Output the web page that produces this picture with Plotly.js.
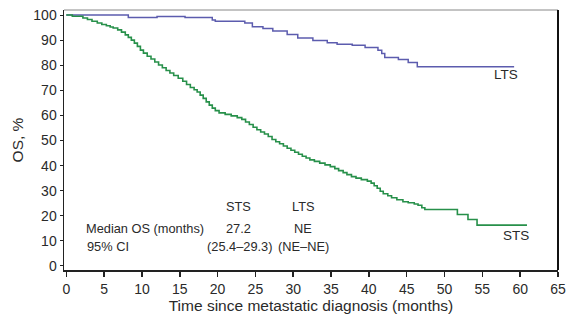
<!DOCTYPE html>
<html>
<head>
<meta charset="utf-8">
<script src="https://cdn.plot.ly/plotly-3.0.1.min.js"></script>
<style>html,body{margin:0;padding:0;background:#fff;}#chart{width:567px;height:320px;}</style>
</head>
<body>
<div id="chart"></div>
<script>
// Short-term survivors (STS) Kaplan-Meier curve
const stsTime = [0,0.8,2.2,2.8,3.4,4.1,4.7,5.3,5.8,6.2,6.8,7.3,7.8,8.2,8.6,9.0,9.4,9.8,10.2,10.7,11.2,11.7,12.2,12.7,13.2,13.7,14.2,14.8,15.4,15.9,16.4,16.9,17.3,17.7,18.1,18.5,18.9,19.3,19.7,20.2,21,21.8,22.6,23.2,23.7,24.2,24.7,25.2,25.7,26.2,26.7,27.2,27.7,28.2,28.7,29.2,29.7,30.2,30.7,31.2,31.7,32.2,32.8,33.5,34.2,34.9,35.5,36,36.6,37.1,37.7,38.3,39,39.8,40.3,40.7,41.1,41.5,41.9,42.5,43,43.7,44.5,45.2,46,46.5,47,47.4,51.7,53.1,54.3,60.9];
const stsOS   = [100,99.5,98.8,98.2,97.5,96.8,96.2,95.7,95.2,94.8,94.1,93.2,92.1,91.1,90,88.8,87.5,86,84.8,83.6,82.5,81.3,80.1,79,77.9,76.9,75.9,74.8,73.6,72.3,71.1,70.2,69.3,68.1,66.8,65.4,64.1,62.9,61.9,61,60.4,59.8,59.1,58.4,57.4,56.4,55.3,54.3,53.4,52.6,51.6,50.4,49.5,48.7,47.8,46.9,46.1,45.3,44.5,43.7,43,42.3,41.7,41,40.3,39.6,38.8,38,37.2,36.4,35.6,35,34.4,33.8,33,32,31,29.8,28.8,28,27.2,26.4,25.6,25.2,24.7,24.2,23.2,22.5,20.5,18.5,16.3,16.3];
// Long-term survivors (LTS) Kaplan-Meier curve
const ltsTime = [0,8.2,12,15.7,19.3,19.7,23.6,24.6,26,27.3,29.2,30.6,32.6,34.5,35.8,37.8,39.5,41.2,41.7,42.1,43.9,45.2,46.4,59.2];
const ltsOS   = [100,99,99.4,99,98,97.5,96.8,95.3,94.6,93.6,92.2,90.8,89.8,89,88.4,88,87.1,86,84.7,83.1,82.3,81.1,79.4,79.4];

const xTicks = [0,5,10,15,20,25,30,35,40,45,50,55,60,65];
const yTicks = [0,10,20,30,40,50,60,70,80,90,100];

// Inset table
const tableCols = ["STS","LTS"];
const medianOS = ["27.2","NE"];
const ci95 = ["(25.4–29.3)","(NE–NE)"];
const rowLabels = ["Median OS (months)","95% CI"];

const font = "Liberation Sans, Arial, sans-serif";
const txt = "#2a2a2a";

const traces = [
  {x: ltsTime, y: ltsOS, mode:"lines", line:{shape:"hv", color:"#5c5cae", width:1.5}, hoverinfo:"skip"},
  {x: stsTime, y: stsOS, mode:"lines", line:{shape:"hv", color:"#27904a", width:1.6}, hoverinfo:"skip"}
];

const ann = [];
const colX = [22.7, 31.3];
const ciX = [22.9, 31.3];
tableCols.forEach((c,i)=>ann.push({x:colX[i], y:23.9, text:c, showarrow:false, xanchor:"center", yanchor:"middle"}));
medianOS.forEach((c,i)=>ann.push({x:colX[i], y:15.1, text:c, showarrow:false, xanchor:"center", yanchor:"middle"}));
ci95.forEach((c,i)=>ann.push({x:ciX[i], y:7.6, text:c, showarrow:false, xanchor:"center", yanchor:"middle"}));
ann.push({x:2.4, y:15.1, text:rowLabels[0], showarrow:false, xanchor:"left", yanchor:"middle"});
ann.push({x:2.5, y:7.6, text:rowLabels[1], showarrow:false, xanchor:"left", yanchor:"middle"});
ann.push({x:58.1, y:76.3, text:"LTS", showarrow:false, xanchor:"center", yanchor:"middle", font:{size:13.5}});
ann.push({x:59.4, y:12.3, text:"STS", showarrow:false, xanchor:"center", yanchor:"middle", font:{size:13.5}});

const layout = {
  width:567, height:320,
  margin:{l:64, r:9, t:10, b:50},
  paper_bgcolor:"#fff", plot_bgcolor:"#fff",
  showlegend:false,
  font:{family:font, color:txt, size:12.8},
  xaxis:{
    range:[-0.3,65], tickvals:xTicks, ticktext:xTicks.map(String),
    showgrid:false, zeroline:false, showline:true, linecolor:"#222", linewidth:2,
    ticks:"outside", ticklen:5, tickcolor:"#222", tickwidth:1.5,
    tickfont:{size:14, family:font, color:txt},
    title:{text:"Time since metastatic diagnosis (months)", font:{size:15.5, family:font, color:txt}, standoff:3}
  },
  yaxis:{
    range:[-1.6,102], tickvals:yTicks, ticktext:yTicks.map(String),
    showgrid:false, zeroline:false, showline:true, linecolor:"#222", linewidth:1.5,
    ticks:"outside", ticklen:3, tickcolor:"#222", tickwidth:1,
    tickfont:{size:14, family:font, color:txt},
    title:{text:"OS, %", font:{size:15.5, family:font, color:txt}, standoff:6}
  },
  annotations: ann,
  shapes:[
    {type:"line", xref:"paper", yref:"paper", x0:0, x1:1, y0:1, y1:1, line:{color:"#888", width:1}},
    {type:"line", xref:"paper", yref:"paper", x0:1, x1:1, y0:0, y1:1, line:{color:"#111", width:2}}
  ]
};

Plotly.newPlot("chart", traces, layout, {displayModeBar:false, staticPlot:true});
</script>
</body>
</html>
